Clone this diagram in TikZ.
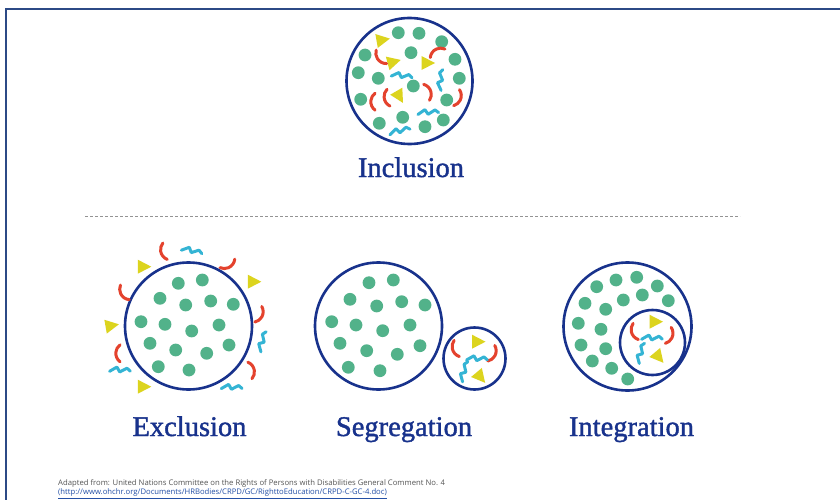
\documentclass[tikz,border=0pt]{standalone}
\usepackage{fontspec}
\setmainfont{Liberation Serif}
\newfontfamily\notefont{Open Sans}
\newfontfamily\capfont[FakeBold=1.3]{Liberation Serif}
\definecolor{navy}{RGB}{24,50,140}
\definecolor{framecol}{RGB}{44,74,134}
\definecolor{dotgreen}{RGB}{82,178,138}
\definecolor{arcred}{RGB}{228,66,45}
\definecolor{triyellow}{RGB}{220,212,30}
\definecolor{zigcyan}{RGB}{52,180,212}
\definecolor{notegrey}{RGB}{85,85,85}
\definecolor{linkblue}{RGB}{36,80,166}
\tikzset{
  ring/.style={circle, draw=navy, line width=2.6pt, inner sep=0pt},
  caption/.style={anchor=base, text=navy, font=\capfont\fontsize{28.5}{28.5}\selectfont},
  note/.style={anchor=base west, inner sep=0pt, font=\notefont\fontsize{7.7}{8}\selectfont},
  tri/.pic={\fill[triyellow] (-5.5,-7) -- (-5.5,7) -- (8,0) -- cycle;},
  bend/.pic={\draw[arcred, line width=3pt, line cap=round] (-8,0) ++(-54:10.5) arc[start angle=-54, end angle=54, radius=10.5];},
  zig/.pic={\draw[zigcyan, line width=3pt, line cap=round, line join=round]
     (-10,3) -- (-4,-3) -- (0,1) -- (6,-4.5) -- (10,-2.5);}
}
\newcommand\greendots[1]{\foreach \px/\py in {#1} \fill[dotgreen] (\px,\py) circle[radius=6.4];}
\begin{document}
\begin{tikzpicture}[x=1pt,y=-1pt]
\useasboundingbox (0,0) rectangle (840,500);
\fill[white] (0,0) rectangle (840,500);

% page frame
\draw[framecol, line width=1.8pt] (5,9) -- (840,9);
\draw[framecol, line width=1.8pt] (6,9) -- (6,500);

% ---------- Inclusion ----------
\greendots{398.3/32.7, 419/33.3, 441.7/41.7, 365/55, 411/52.7, 455/59.3,
  358.3/72.7, 378.3/78.3, 413.3/86, 459.3/78.3, 360.7/99.3, 446.7/100,
  379.3/123.3, 402.7/117.3, 425/126.7, 443.3/120}
\pic[rotate=10] at (382,40) {tri};
\pic[rotate=15] at (393,62) {tri};
\pic[rotate=0] at (427,63) {tri};
\pic[rotate=-60] at (399,96) {tri};
\pic[rotate=218] at (380,58) {bend};
\pic[rotate=120] at (436.7,51.7) {bend};
\pic[rotate=180] at (373.3,101.7) {bend};
\pic[rotate=190] at (386.7,98) {bend};
\pic[rotate=20] at (428.3,91.7) {bend};
\pic[rotate=-20] at (458.3,98.3) {bend};
\pic[rotate=-20] at (401.7,76.7) {zig};
\pic[rotate=70] at (441.7,80) {zig};
\pic[rotate=-10] at (428.3,113.3) {zig};
\pic[rotate=0] at (400,131.7) {zig};
\node[ring, minimum size=126] (incl) at (409.5,81) {};
\node[caption] (incltext) at (411,177) {Inclusion};

% separator
\draw[gray!85, line width=1pt, dash pattern=on 3pt off 2pt] (85,216) -- (740,216);

% ---------- Exclusion ----------
\greendots{178.3/283.3, 202.3/280, 160/298.3, 185.7/305, 210.7/301, 233.3/304.3,
  141/321.7, 165/324.3, 191.7/331, 219/325, 150/343.3, 175.7/350,
  206.7/353.3, 229/345, 158.3/366.7, 189/370}
\node[ring, minimum size=127] (excl) at (188.5,326) {};
\pic[rotate=195] at (163.3,251.7) {bend};
\pic[rotate=-60] at (228.3,265) {bend};
\pic[rotate=211] at (123.3,293.3) {bend};
\pic[rotate=-24] at (260,315) {bend};
\pic[rotate=180] at (118.3,353.3) {bend};
\pic[rotate=14] at (251.7,370) {bend};
\pic[rotate=0] at (143.3,266.7) {tri};
\pic[rotate=0] at (253.3,281.7) {tri};
\pic[rotate=10] at (111,325.7) {tri};
\pic[rotate=0] at (143.3,386.7) {tri};
\pic[rotate=-25] at (191.7,251.7) {zig};
\pic[rotate=60] at (263.3,341.7) {zig};
\pic[rotate=-15] at (120,371) {zig};
\pic[rotate=-15] at (231.7,388.3) {zig};
\node[caption] (excltext) at (189.5,436) {Exclusion};

% ---------- Segregation ----------
\greendots{369/282.7, 393.3/280, 350/299.3, 376.7/306, 401.7/301.7, 425/305,
  331.7/321.7, 356/325, 382.7/330.7, 410/325, 340/343.3, 366.7/350.7,
  397.3/354.3, 420/345.7, 348.3/367.3, 380/370.7}
\node[ring, minimum size=127] (segmain) at (378.5,326) {};
\pic[rotate=198] at (455,349) {bend};
\pic[rotate=-24] at (493,354) {bend};
\pic[rotate=0] at (477.5,341.7) {tri};
\pic[rotate=-50] at (480,376.7) {tri};
\pic[rotate=-15] at (477,359.7) {zig};
\pic[rotate=60] at (465,371.7) {zig};
\node[ring, minimum size=62] (segsmall) at (474.5,358.5) {};
\node[caption] (segtext) at (404,436) {Segregation};

% ---------- Integration ----------
\greendots{616/280, 636.7/277.3, 596.7/286.7, 657.3/286, 642.3/295, 623.3/300,
  585/303.3, 668.3/300.7, 605.7/309.3, 578.3/323.3, 601/329.3, 581/345,
  605.7/348.7, 592.3/361, 611.7/368.3, 627.7/379}
\node[ring, minimum size=128] (intmain) at (627.5,326.5) {};
\pic[rotate=198] at (634,332) {bend};
\pic[rotate=-20] at (670,336) {bend};
\pic[rotate=0] at (655,321.7) {tri};
\pic[rotate=-50] at (658.3,356.7) {tri};
\pic[rotate=-15] at (652,339) {zig};
\pic[rotate=60] at (641.7,353.3) {zig};
\node[ring, minimum size=65] (intinner) at (652.5,342.5) {};
\node[caption] (inttext) at (631.5,436) {Integration};

% ---------- source note ----------
\node[note, text=notegrey] (src) at (58,485)
  {Adapted from: United Nations Committee on the Rights of Persons with Disabilities General Comment No. 4};
\node[note, text=linkblue] (url) at (58,494.5)
  {\underline{(http://www.ohchr.org/Documents/HRBodies/CRPD/GC/RighttoEducation/CRPD-C-GC-4.doc)}};
\end{tikzpicture}
\end{document}
